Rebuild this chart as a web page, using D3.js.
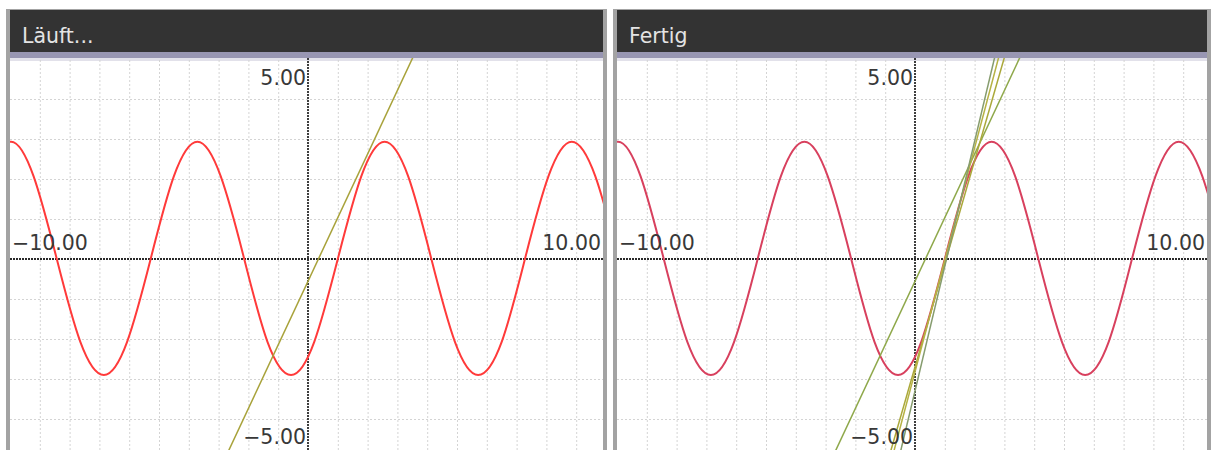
<!DOCTYPE html>
<html><head><meta charset="utf-8">
<script src="https://cdn.jsdelivr.net/npm/d3@7"></script>
<style>html,body{margin:0;padding:0;background:#fff;}svg{display:block;}</style>
</head><body>
<svg id="c" width="1212" height="450"></svg>
<script>
// ---- data ----
const panelTitles = ["Läuft...", "Fertig"];
const xDomain = [-10, 10];
const yDomain = [-5, 5];
const xGridTicks = [-9,-8,-7,-6,-5,-4,-3,-2,-1,1,2,3,4,5,6,7,8,9];
const yGridTicks = [-4,-3,-2,-1,1,2,3,4];
const xEndLabels = ["−10.00", "10.00"];
const yEndLabels = ["5.00", "−5.00"];
// red curve: points (x, y)
const curveX = [-10.79,-10.0,-9.21,-8.43,-7.64,-6.85,-6.07,-5.28,-4.50,-3.71,-2.93,-2.14,-1.36,-0.57,0.21,1.00,1.79,2.57,3.36,4.14,4.93,5.71,6.50,7.28,8.07,8.85,9.64,10.42];
const curveY = [2.07,2.93,2.07,0,-2.07,-2.9,-2.07,0,2.07,2.93,2.07,0,-2.07,-2.9,-2.07,0,2.07,2.93,2.07,0,-2.07,-2.9,-2.07,0,2.07,2.93,2.07,0];
// straight lines (slope, intercept) per panel
const leftSlopes = [1.59];
const leftIntercepts = [-0.556];
const rightSlopes = [1.59, 2.58, 2.80, 3.12];
const rightIntercepts = [-0.556, -2.70, -2.82, -3.30];

// ---- drawing ----
const svg = d3.select("#c");
const panelX = [[10, 603], [617, 1207]];
const curveColors = ["#ff3a3a", "#d8405e"];
const lineColors = [["#a8a23a"], ["#8ea84a", "#aaa83a", "#b6b244", "#869c6e"]];
const slopes = [leftSlopes, rightSlopes];
const intercepts = [leftIntercepts, rightIntercepts];
const plotTop = 58, plotBot = 450;

panelX.forEach(([x0, x1], i) => {
  const g = svg.append("g");
  // frame
  g.append("rect").attr("x", x0 - 4).attr("y", 9).attr("width", x1 - x0 + 8).attr("height", 450)
    .attr("fill", "#a3a3a3");
  g.append("rect").attr("x", x0).attr("y", 10).attr("width", x1 - x0).attr("height", 43).attr("fill", "#333333");
  g.append("rect").attr("x", x0).attr("y", 52).attr("width", x1 - x0).attr("height", 6).attr("fill", "#9896b2");
  g.append("rect").attr("x", x0).attr("y", plotTop).attr("width", x1 - x0).attr("height", plotBot - plotTop).attr("fill", "#ffffff");
  g.append("rect").attr("x", x0).attr("y", plotTop).attr("width", x1 - x0).attr("height", 3).attr("fill", "#e2e1ea");
  g.append("text").attr("x", x0 + 12).attr("y", 43).text(panelTitles[i])
    .attr("font-family", "DejaVu Sans").attr("font-size", 20.5).attr("fill", "#e4e4e4");

  const xs = d3.scaleLinear().domain(xDomain).range([x0, x0 + 596]);
  const ys = d3.scaleLinear().domain(yDomain).range([459, 59]);

  const clipId = "clip" + i;
  svg.append("clipPath").attr("id", clipId).append("rect")
    .attr("x", x0).attr("y", plotTop).attr("width", x1 - x0).attr("height", plotBot - plotTop);
  const p = g.append("g").attr("clip-path", `url(#${clipId})`);

  // grid via axes
  const gx = p.append("g").attr("transform", `translate(0,${plotBot})`)
    .call(d3.axisBottom(xs).tickValues(xGridTicks).tickSize(-(plotBot - plotTop)).tickFormat(""));
  const gy = p.append("g").attr("transform", `translate(${x0},0)`)
    .call(d3.axisLeft(ys).tickValues(yGridTicks).tickSize(-(x1 - x0)).tickFormat(""));
  [gx, gy].forEach(a => {
    a.select(".domain").remove();
    a.selectAll(".tick line").attr("stroke", "#d4d4d4").attr("stroke-width", 1).attr("stroke-dasharray", "2,2");
  });

  // axes lines
  p.append("line").attr("x1", x0).attr("x2", x1).attr("y1", ys(0)).attr("y2", ys(0))
    .attr("stroke", "#2a2a2a").attr("stroke-width", 1.8).attr("stroke-dasharray", "2,1");
  p.append("line").attr("x1", xs(0)).attr("x2", xs(0)).attr("y1", plotTop).attr("y2", plotBot)
    .attr("stroke", "#2a2a2a").attr("stroke-width", 1.8).attr("stroke-dasharray", "2,1");

  // curve
  const pts = curveX.map((x, k) => [x, curveY[k]]);
  p.append("path").attr("d", d3.line().x(d => xs(d[0])).y(d => ys(d[1])).curve(d3.curveNatural)(pts))
    .attr("fill", "none").attr("stroke", curveColors[i]).attr("stroke-width", 2);

  // straight lines
  slopes[i].forEach((m, k) => {
    const b = intercepts[i][k];
    p.append("line")
      .attr("x1", xs(-10)).attr("y1", ys(m * -10 + b))
      .attr("x2", xs(10)).attr("y2", ys(m * 10 + b))
      .attr("stroke", lineColors[i][k]).attr("stroke-width", 1.5);
  });

  // end labels
  const lab = (x, y, t, anchor) => g.append("text").attr("x", x).attr("y", y).text(t)
    .attr("text-anchor", anchor).attr("font-family", "DejaVu Sans").attr("font-size", 20.5).attr("fill", "#383838");
  lab(x0 + 2, 250, xEndLabels[0], "start");
  lab(x1 - 2, 250, xEndLabels[1], "end");
  lab(xs(0) - 2, 85, yEndLabels[0], "end");
  lab(xs(0) - 2, 444, yEndLabels[1], "end");
});
</script>
</body></html>
